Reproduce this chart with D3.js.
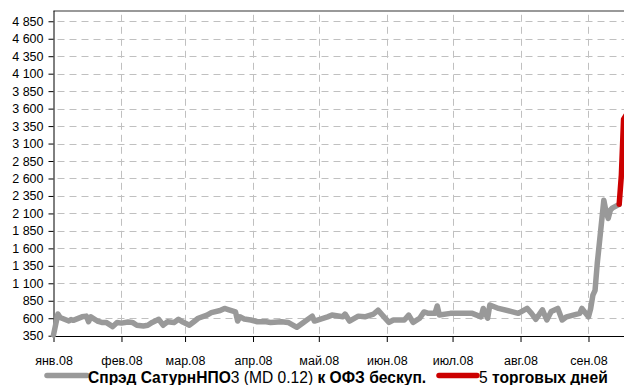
<!DOCTYPE html>
<html><head><meta charset="utf-8">
<script src="https://cdn.jsdelivr.net/npm/d3@7"></script>
<style>
html,body{margin:0;padding:0;background:#fff;}
svg{display:block;font-family:"Liberation Sans",Arial,sans-serif;}
</style></head>
<body>
<svg id="chart" width="624" height="385"></svg>
<script>
// ---- data ----
const spreadDates = ["2008-01-01","2008-01-03","2008-01-04","2008-01-08","2008-01-09","2008-01-10","2008-01-14","2008-01-16","2008-01-17","2008-01-18","2008-01-21","2008-01-23","2008-01-25","2008-01-28","2008-01-30","2008-02-01","2008-02-04","2008-02-06","2008-02-08","2008-02-11","2008-02-13","2008-02-15","2008-02-18","2008-02-20","2008-02-22","2008-02-25","2008-02-27","2008-02-29","2008-03-03","2008-03-05","2008-03-07","2008-03-11","2008-03-13","2008-03-17","2008-03-19","2008-03-21","2008-03-24","2008-03-25","2008-03-26","2008-03-28","2008-03-31","2008-04-03","2008-04-07","2008-04-09","2008-04-14","2008-04-17","2008-04-21","2008-04-24","2008-04-28","2008-04-29","2008-05-05","2008-05-07","2008-05-12","2008-05-13","2008-05-15","2008-05-19","2008-05-22","2008-05-26","2008-05-28","2008-05-30","2008-06-02","2008-06-04","2008-06-09","2008-06-11","2008-06-13","2008-06-16","2008-06-18","2008-06-20","2008-06-23","2008-06-24","2008-06-25","2008-06-30","2008-07-04","2008-07-10","2008-07-14","2008-07-15","2008-07-17","2008-07-18","2008-07-22","2008-07-28","2008-07-31","2008-08-04","2008-08-06","2008-08-08","2008-08-11","2008-08-13","2008-08-15","2008-08-18","2008-08-20","2008-08-22","2008-08-25","2008-08-28","2008-08-29","2008-09-01","2008-09-02","2008-09-03","2008-09-04","2008-09-05","2008-09-08","2008-09-09","2008-09-10","2008-09-11","2008-09-12","2008-09-15"];
const spreadValues = [360,660,610,560,580,570,620,630,550,620,560,540,540,480,540,530,545,540,500,490,500,540,585,500,550,540,585,545,500,550,600,645,680,710,740,720,690,560,620,590,575,550,550,540,550,540,470,540,630,560,620,645,620,660,560,630,620,660,715,645,540,575,575,645,540,600,690,670,670,775,645,670,670,670,620,740,600,790,740,695,670,740,670,585,720,575,695,740,575,620,645,670,740,620,740,930,1000,1385,2290,2125,2030,2150,2180,2230];
const lastDaysDates = ["2008-09-15","2008-09-16","2008-09-17","2008-09-18","2008-09-19"];
const lastDaysValues = [2230,2650,3450,3500,3300];
const monthTicks = ["2008-01-01","2008-02-01","2008-03-01","2008-04-01","2008-05-01","2008-06-01","2008-07-01","2008-08-01","2008-09-01"];
const monthLabels = ["янв.08","фев.08","мар.08","апр.08","май.08","июн.08","июл.08","авг.08","сен.08"];
const yTicks = [350,600,850,1100,1350,1600,1850,2100,2350,2600,2850,3100,3350,3600,3850,4100,4350,4600,4850];
const yDomain = [350,5000];
const xDomain = ["2008-01-01","2008-10-01"];
const seriesNames = ["Спрэд СатурнНПО","3 (MD 0.12)"," к ОФЗ бескуп."];
const series2Names = ["5"," торговых дней"];

// ---- layout ----
const parse = d3.utcParse("%Y-%m-%d");
const svg = d3.select("#chart");
const pL = 53.5, pT = 10.8, pB = 335.7;
const pxPerDay = 2.1926;
const xd = xDomain.map(parse);
const nDays = (xd[1]-xd[0])/864e5;
const x = d3.scaleUtc().domain(xd).range([pL, pL + nDays*pxPerDay]);
const y = d3.scaleLinear().domain(yDomain).range([pB, pT]);
const loc = d3.formatLocale({decimal:",",thousands:"\u00a0",grouping:[3],currency:["",""]});
const fmt = loc.format(",d");

// grid: dashes built as explicit path segments
const dashOn = 7, dashOff = 5;
function hDash(yy, x0, x1) {
  let s = "";
  for (let a = x0 + 4; a < x1; a += dashOn + dashOff) s += `M${a},${yy}H${Math.min(a + dashOn, x1)}`;
  return s;
}
function vDash(xx, y0, y1) {
  let s = "";
  for (let a = y0 + 4; a < y1; a += dashOn + dashOff) s += `M${xx},${a}V${Math.min(a + dashOn, y1)}`;
  return s;
}
const gridG = svg.append("g");
gridG.selectAll("path.gh").data(yTicks.slice(1)).enter().append("path").attr("class","gh")
  .attr("d", v => hDash(Math.round(y(v)) + 0.5, pL, 624))
  .attr("fill","none").attr("stroke","#c0c0c0").attr("stroke-width",1);
gridG.selectAll("path.gv").data(monthTicks.slice(1).map(parse)).enter().append("path").attr("class","gv")
  .attr("d", d => vDash(Math.round(x(d)) + 0.5, pT, pB))
  .attr("fill","none").attr("stroke","#c0c0c0").attr("stroke-width",1);

// top border
svg.append("line").attr("x1",pL).attr("x2",624).attr("y1",11).attr("y2",11)
  .attr("stroke","#777").attr("stroke-width",1.5);

// axes
const yAxis = d3.axisLeft(y).tickValues(yTicks).tickFormat(fmt).tickSize(5).tickPadding(5);
const gy = svg.append("g").attr("transform",`translate(${pL},0)`).call(yAxis);
gy.select(".domain").attr("d",`M0.5,${pT}V${pB}`).attr("stroke","#000");
gy.selectAll("text").attr("font-size",12.5).attr("fill","#000").attr("font-family","Liberation Sans, Arial");

const xAxis = d3.axisBottom(x).tickValues(monthTicks.map(parse)).tickFormat((d,i)=>monthLabels[i]).tickSize(6).tickPadding(14);
const gx = svg.append("g").attr("transform",`translate(0,${Math.round(pB)})`).call(xAxis);
gx.select(".domain").attr("d",`M${pL},0.5H624`).attr("stroke","#000");
gx.selectAll("text").attr("font-size",12.5).attr("fill","#000").attr("font-family","Liberation Sans, Arial");

// lines
const line = d3.line().x(d=>x(d[0])).y(d=>y(d[1]));
const s1 = spreadDates.map((d,i)=>[parse(d), spreadValues[i]]);
const s2 = lastDaysDates.map((d,i)=>[parse(d), lastDaysValues[i]]);
svg.append("path").datum(s1).attr("d",line).attr("fill","none")
  .attr("stroke","#999999").attr("stroke-width",5.5).attr("stroke-linejoin","round").attr("stroke-linecap","round");
svg.append("path").datum(s2).attr("d",line).attr("fill","none")
  .attr("stroke","#cc0000").attr("stroke-width",5.5).attr("stroke-linejoin","round").attr("stroke-linecap","round");

// legend
const lg = svg.append("g");
lg.append("line").attr("x1",47).attr("x2",87).attr("y1",375.5).attr("y2",375.5)
  .attr("stroke","#999999").attr("stroke-width",5.5).attr("stroke-linecap","round");
const t1 = lg.append("text").attr("x",88).attr("y",382.5).attr("font-size",15.6).attr("fill","#000");
t1.append("tspan").attr("font-weight","bold").text(seriesNames[0]);
t1.append("tspan").text(seriesNames[1]);
t1.append("tspan").attr("font-weight","bold").text(seriesNames[2]);
lg.append("line").attr("x1",439).attr("x2",477).attr("y1",375.5).attr("y2",375.5)
  .attr("stroke","#cc0000").attr("stroke-width",5.5).attr("stroke-linecap","round");
const t2 = lg.append("text").attr("x",479).attr("y",382.5).attr("font-size",15.6).attr("fill","#000");
t2.append("tspan").text(series2Names[0]);
t2.append("tspan").attr("font-weight","bold").text(series2Names[1]);
</script>
</body></html>
